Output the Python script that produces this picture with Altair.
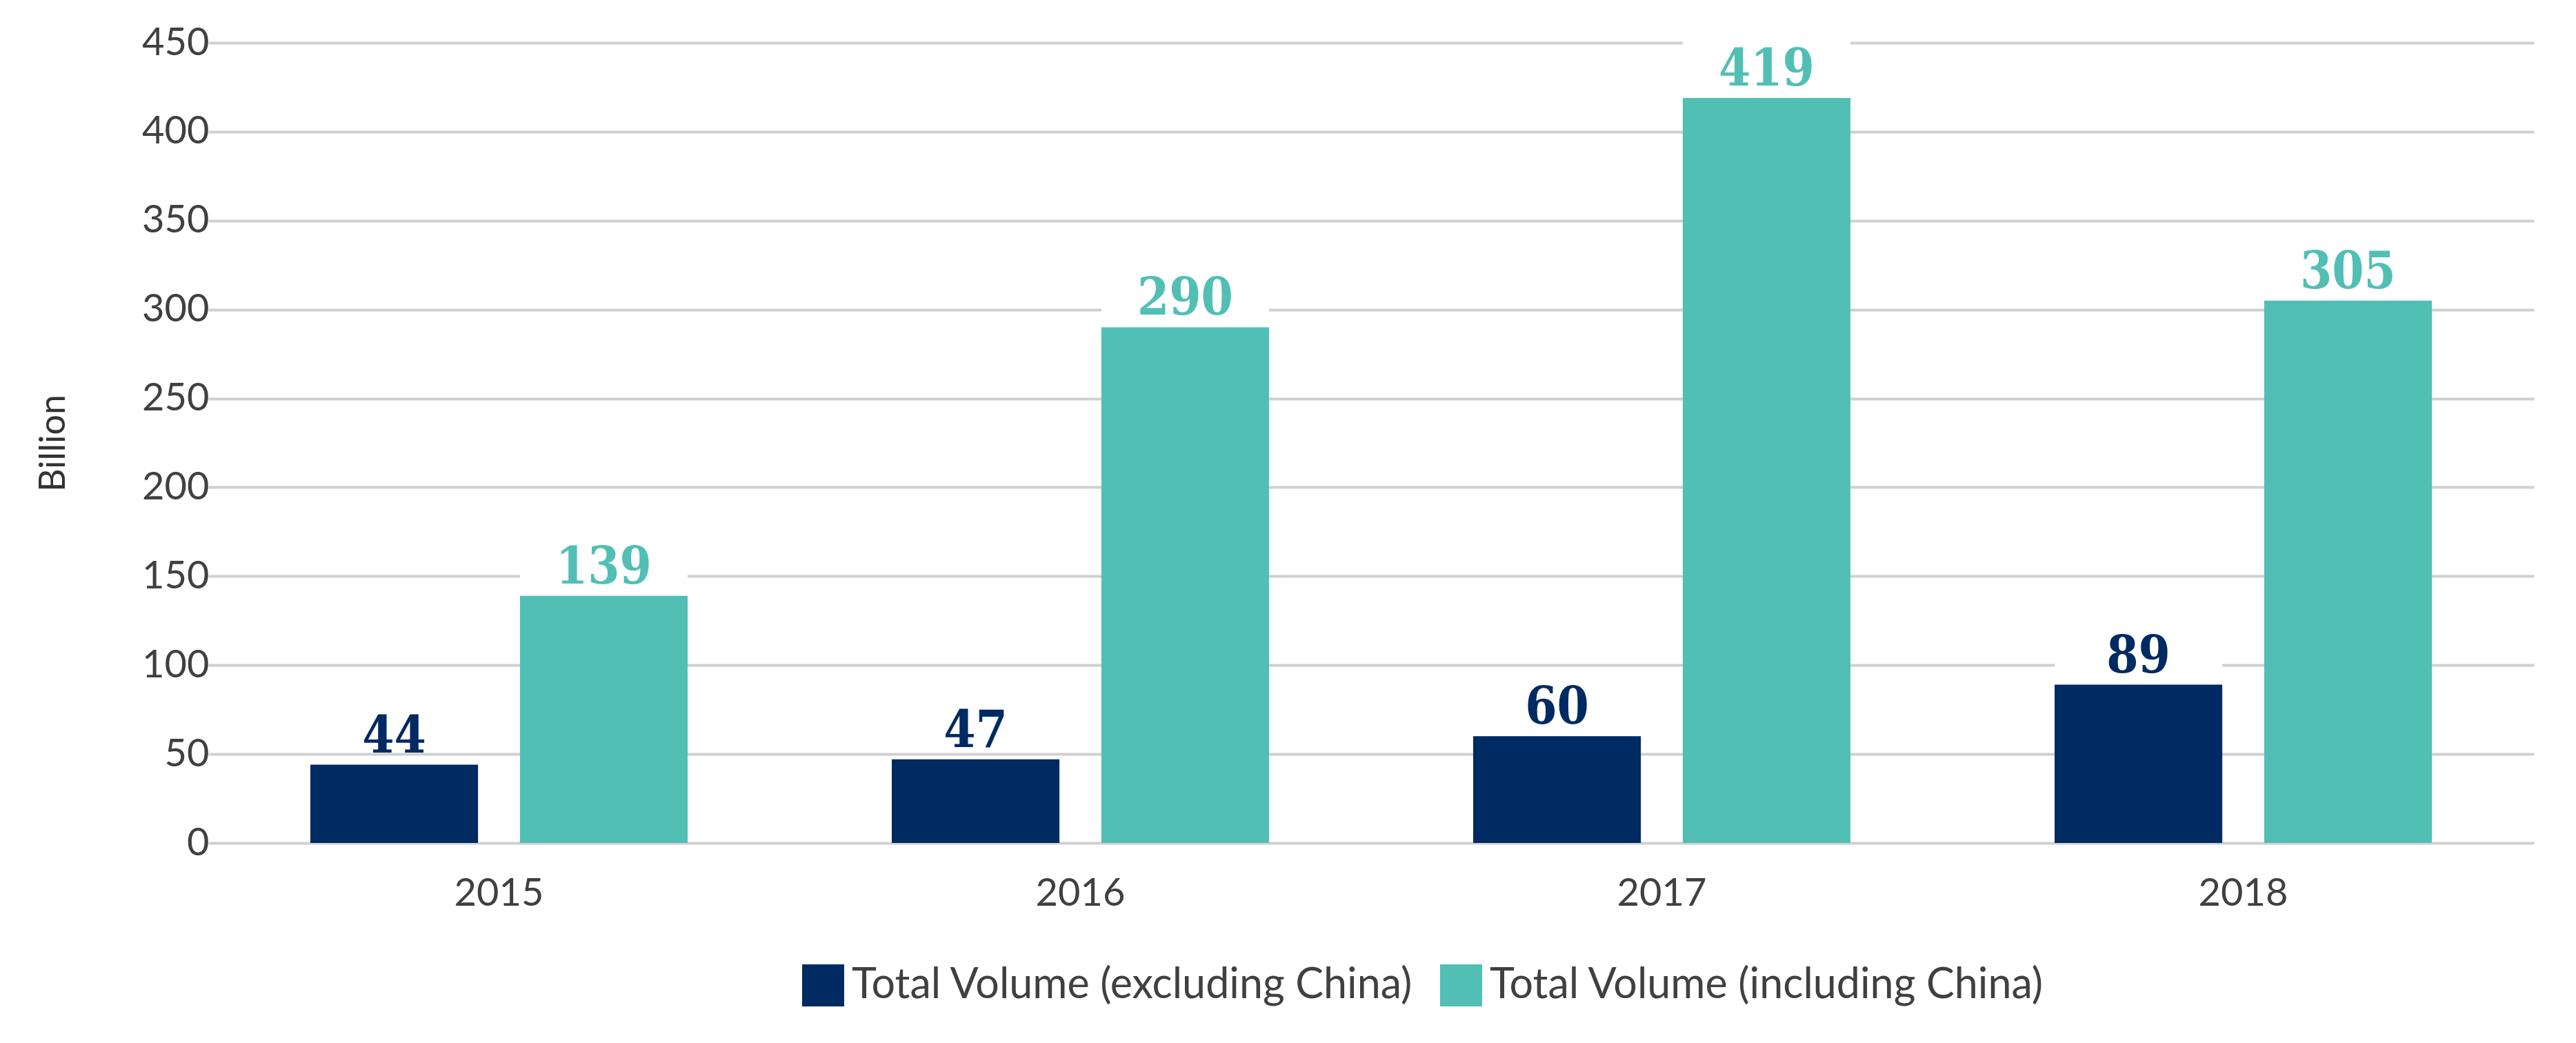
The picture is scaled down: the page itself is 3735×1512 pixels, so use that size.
import altair as alt
import pandas as pd

years = ["2015", "2016", "2017", "2018"]
series_names = ["Total Volume (excluding China)", "Total Volume (including China)"]
excl_china = [44, 47, 60, 89]
incl_china = [139, 290, 419, 305]
y_ticks = [0, 50, 100, 150, 200, 250, 300, 350, 400, 450]

NAVY = "#002A62"
TEAL = "#52BFB5"

rows = []
for i, yr in enumerate(years):
    rows.append({"year": yr, "series": series_names[0], "value": excl_china[i]})
    rows.append({"year": yr, "series": series_names[1], "value": incl_china[i]})
df = pd.DataFrame(rows)

x_enc = alt.X(
    "year:N",
    sort=years,
    scale=alt.Scale(range=[-40, 3332], paddingInner=0, paddingOuter=0),
    axis=alt.Axis(
        title=None, labelAngle=0, labelFont="Lato", labelFontSize=56,
        labelColor="#404040", labelPadding=46, ticks=False, domain=False, grid=False,
    ),
)
xoff_enc = alt.XOffset(
    "series:N", sort=series_names,
    scale=alt.Scale(paddingInner=0.2, paddingOuter=0.487),
)
y_enc = alt.Y(
    "value:Q",
    scale=alt.Scale(domain=[0, 450], nice=False),
    axis=alt.Axis(
        values=y_ticks, title="Billion", titleFont="Lato", titleFontSize=52,
        titleFontWeight="normal", titleColor="#333333", titleX=-249, titleY=580,
        titleAngle=270, titleBaseline="alphabetic", titleAlign="center",
        labelFont="Lato", labelFontSize=56, labelColor="#404040", labelPadding=39,
        ticks=False, domain=False, gridColor="#d0d0d0", gridWidth=4,
    ),
)
color_enc = alt.Color(
    "series:N",
    sort=series_names,
    scale=alt.Scale(domain=series_names, range=[NAVY, TEAL]),
    legend=alt.Legend(
        title=None, orient="none", legendX=821, legendY=1336, direction="horizontal",
        symbolType="square", symbolSize=3721, symbolStrokeWidth=0,
        labelFont="Lato", labelFontSize=61, labelColor="#404040", labelLimit=3000,
        columnPadding=38, labelOffset=11, padding=0,
    ),
)

bars = alt.Chart().mark_bar().encode(
    x=x_enc, xOffset=xoff_enc, y=y_enc, color=color_enc
)

boxes = alt.Chart().mark_bar(color="white", yOffset=-18, y2Offset=-82).encode(
    x=x_enc, xOffset=xoff_enc, y=y_enc, y2="value:Q"
)

labels = alt.Chart().mark_text(
    font="DejaVu Serif Condensed", fontWeight="bold", fontSize=74,
    baseline="alphabetic", dy=-18,
).encode(
    x=x_enc, xOffset=xoff_enc, y=y_enc, text="value:Q",
    color=alt.Color("series:N", sort=series_names,
                    scale=alt.Scale(domain=series_names, range=[NAVY, TEAL]), legend=None),
)

chart = alt.layer(bars, boxes, labels, data=df).properties(
    width=3343,
    height=1160,
    autosize=alt.AutoSizeParams(type="none"),
    padding={"left": 334, "top": 54, "right": 30, "bottom": 280},
    background="white",
).configure_view(stroke=None)

chart.save("out.html", embed_options={"renderer": "svg", "actions": False})
